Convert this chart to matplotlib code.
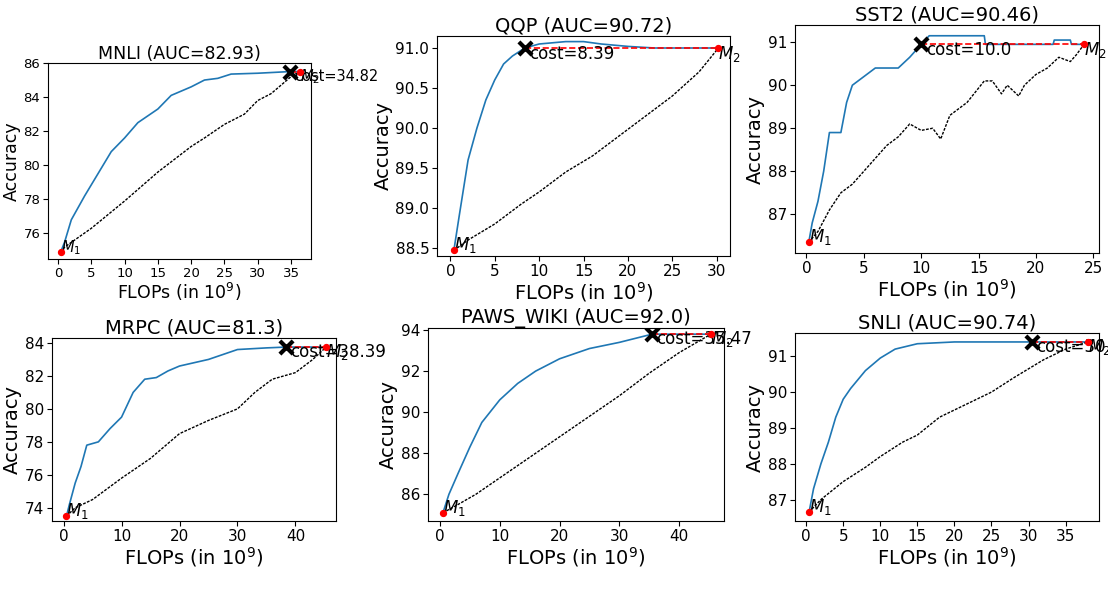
import matplotlib
matplotlib.use("Agg")
import matplotlib.pyplot as plt

names = ["MNLI", "QQP", "SST2", "MRPC", "PAWS_WIKI", "SNLI"]
aucs = ["82.93", "90.72", "90.46", "81.3", "92.0", "90.74"]
costs = [34.82, 8.39, 10.0, 38.39, 35.47, 30.43]

mnli_bx = [0.4,1,2,4,6,8,10,12,15,17,20,22,24,26,30,35,36.3]
mnli_by = [74.9,75.5,76.8,78.2,79.5,80.8,81.6,82.5,83.3,84.1,84.6,85.0,85.1,85.35,85.4,85.5,85.5]
mnli_kx = [0.4,1,5,10,15,20,22,25,28,30,32,35,36.3]
mnli_ky = [74.9,75.2,76.3,77.9,79.6,81.1,81.6,82.4,83.0,83.8,84.2,85.2,85.5]

qqp_bx = [0.4,1,2,3,4,5,6,7,8.39,10,13,15,17,20,23,30.2]
qqp_by = [88.47,88.9,89.6,90.0,90.35,90.6,90.8,90.9,91.0,91.05,91.08,91.08,91.05,91.02,91.0,91.0]
qqp_kx = [0.4,2,5,8,10,13,16,19,22,25,28,30.2]
qqp_ky = [88.47,88.6,88.8,89.05,89.2,89.45,89.65,89.9,90.15,90.4,90.7,91.0]

sst_bx = [0.2,0.5,1,1.5,2,3,3.5,4,5,6,8,9,10,10.7,15.5,15.6,21.5,21.6,23,23.1,24.2]
sst_by = [86.35,86.8,87.3,88.0,88.9,88.9,89.6,90.0,90.2,90.4,90.4,90.65,90.95,91.15,91.15,90.95,90.95,91.05,91.05,90.95,90.95]
sst_kx = [0.2,1,2,3,4,5,6,7,8,9,10,11,11.7,12.5,14,15.5,16.2,17,17.5,18.5,19,20,21,22,23,23.5,24.2]
sst_ky = [86.35,86.6,87.1,87.5,87.7,88.0,88.3,88.6,88.8,89.1,88.95,89.0,88.75,89.3,89.6,90.1,90.1,89.8,90.0,89.75,90.0,90.25,90.4,90.65,90.55,90.7,90.95]

mrpc_bx = [0.5,1,2,3,4,6,8,10,12,14,16,18,20,25,30,35,38.39,45.3]
mrpc_by = [73.5,74.2,75.5,76.5,77.8,78.0,78.8,79.5,81.0,81.8,81.9,82.3,82.6,83.0,83.6,83.7,83.75,83.75]
mrpc_kx = [0.5,2,5,10,15,20,25,30,33,36,40,43,45.3]
mrpc_ky = [73.5,74.0,74.5,75.8,77.0,78.5,79.3,80.0,81.0,81.8,82.2,83.0,83.75]

paws_bx = [0.5,1.5,3,5,7,10,13,16,20,25,30,35.47,45.3]
paws_by = [85.1,86.0,87.0,88.3,89.5,90.6,91.4,92.0,92.6,93.1,93.4,93.8,93.8]
paws_kx = [0.5,3,6,10,15,20,25,30,35,40,45.3]
paws_ky = [85.1,85.5,86.0,86.8,87.8,88.8,89.8,90.8,91.9,92.9,93.8]

snli_bx = [0.4,1,2,3,4,5,6,8,10,12,15,20,25,30.43,38]
snli_by = [86.65,87.3,88.0,88.6,89.3,89.8,90.1,90.6,90.95,91.2,91.35,91.4,91.4,91.4,91.4]
snli_kx = [0.4,2,5,8,10,13,15,18,20,25,28,32,35,38]
snli_ky = [86.65,87.0,87.5,87.9,88.2,88.6,88.8,89.3,89.5,90.0,90.4,90.9,91.2,91.4]

blues = [(mnli_bx,mnli_by),(qqp_bx,qqp_by),(sst_bx,sst_by),(mrpc_bx,mrpc_by),(paws_bx,paws_by),(snli_bx,snli_by)]
blacks = [(mnli_kx,mnli_ky),(qqp_kx,qqp_ky),(sst_kx,sst_ky),(mrpc_kx,mrpc_ky),(paws_kx,paws_ky),(snli_kx,snli_ky)]

W, H = 1108, 597
boxes = [(48,63,311,259),(437,36,730,256),(795,25,1099,253),
         (52,338,336,521),(428,328,724,521),(795,333,1099,521)]
xlims = [(-1.5,38),(-1.5,31.5),(-1,25.5),(-2,47),(-2,47.5),(-1.5,39.5)]
ylims = [(74.5,86.0),(88.4,91.15),(86.1,91.4),(73.2,84.3),(84.7,94.1),(86.4,91.65)]
xticks = [range(0,36,5),range(0,31,5),range(0,26,5),range(0,41,10),range(0,41,10),range(0,36,5)]
yticks = [range(76,87,2),[88.5,89.0,89.5,90.0,90.5,91.0],range(87,92),range(74,85,2),range(86,95,2),range(87,92)]

fig = plt.figure(figsize=(W/100, H/100), dpi=100)
for i in range(6):
    l,t,r,b = boxes[i]
    ax = fig.add_axes([l/W, 1-b/H, (r-l)/W, (b-t)/H])
    small = i == 0
    tf, lf, tt = (9.5, 12.5, 12.5) if small else (11, 14, 14)
    bx, by = blues[i]; kx, ky = blacks[i]
    ax.plot(bx, by, color="#1f77b4", lw=1.2)
    ax.plot(kx, ky, color="black", lw=1.0, ls=(0,(2,1)))
    c = costs[i]
    ax.plot([c, bx[-1]], [by[-1], by[-1]], color="red", ls="--", lw=1.2)
    ax.scatter([bx[0], bx[-1]], [by[0], by[-1]], color="red", s=18, zorder=5)
    ax.scatter([c], [by[-1]], marker="x", color="black", s=90, linewidths=3, zorder=6)
    dx = 0.015*(xlims[i][1]-xlims[i][0])
    dy = 0.025*(ylims[i][1]-ylims[i][0])
    ax.text(c+dx, by[-1]-dy, f"cost={c}", fontsize=lf-2, va="center", ha="left")
    ax.text(bx[0], by[0]+dy, "$M_1$", fontsize=lf-2, va="center", ha="left")
    ax.text(bx[-1], by[-1]-dy, "$M_2$", fontsize=lf-2, va="center", ha="left")
    ax.set_xlim(*xlims[i]); ax.set_ylim(*ylims[i])
    ax.set_xticks(list(xticks[i])); ax.set_yticks(list(yticks[i]))
    if i == 1:
        ax.set_yticklabels([f"{v:.1f}" for v in yticks[i]])
    ax.tick_params(labelsize=tf, pad=2)
    ax.set_title(f"{names[i]} (AUC={aucs[i]})", fontsize=tt, pad=3)
    ax.set_xlabel("FLOPs (in $10^9$)", fontsize=lf, labelpad=1)
    ax.set_ylabel("Accuracy", fontsize=lf, labelpad=2)
fig.savefig("out.png", dpi=100)
